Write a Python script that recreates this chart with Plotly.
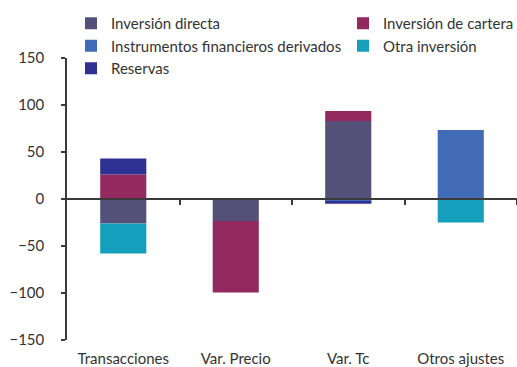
import plotly.graph_objects as go

# Contributions by component (stacked, relative mode)
categories = ["Transacciones", "Var. Precio", "Var. Tc", "Otros ajustes"]

inversion_directa = [-26, -23.5, 83, 0]
inversion_cartera = [26, -76, 10.5, 0]
otra_inversion = [-32, 0, -1.5, -25]
derivados = [0, 0, -1.5, 73.5]
reservas = [17, 0, -2, 0]

y_ticks = [-150, -100, -50, 0, 50, 100, 150]

FONT = "Lato"
TEXT = "#333333"
AXIS = "#3a3a3a"

series = [
    ("Inversión directa", inversion_directa, "#55507A", "legend"),
    ("Inversión de cartera", inversion_cartera, "#93295F", "legend2"),
    ("Otra inversión", otra_inversion, "#14A0BC", "legend2"),
    ("Instrumentos financieros derivados", derivados, "#416BB5", "legend"),
    ("Reservas", reservas, "#2E3192", "legend"),
]

fig = go.Figure()
for i, (name, vals, color, leg) in enumerate(series):
    fig.add_trace(go.Bar(
        x=categories, y=vals, name=name,
        marker=dict(color=color, line=dict(width=0)),
        legend=leg, legendgroup=f"g{i}",
    ))

# Invisible trace to carry the zero-level category axis
fig.add_trace(go.Scatter(x=[0, 3], y=[0, 0], xaxis="x2", mode="markers",
                         marker=dict(opacity=0), showlegend=False,
                         hoverinfo="skip"))

PLOT_W, PLOT_H, L, T = 450, 282, 67, 58

legend_style = dict(
    orientation="v", bgcolor="rgba(0,0,0,0)",
    font=dict(family=FONT, size=15, color=TEXT),
    xanchor="left", yanchor="top", tracegroupgap=0,
    itemsizing="constant",
)

fig.update_layout(
    width=517, height=367,
    margin=dict(l=L, r=0, t=T, b=27, autoexpand=False),
    paper_bgcolor="white", plot_bgcolor="white",
    barmode="relative", bargap=0.59,
    font=dict(family=FONT, size=15, color=TEXT),
    legend=dict(**legend_style, x=(71 - L) / PLOT_W, y=1 + (T - 7) / PLOT_H),
    legend2=dict(**legend_style, x=(343 - L) / PLOT_W, y=1 + (T - 7) / PLOT_H),
    xaxis=dict(
        showline=False, ticks="", showgrid=False, zeroline=False,
        ticklabelstandoff=8,
        tickfont=dict(family=FONT, size=15, color=TEXT),
    ),
    xaxis2=dict(
        overlaying="x", anchor="free", position=0.5, side="bottom",
        range=[-0.5, 3.5], showline=True, linecolor=AXIS, linewidth=1.5,
        ticks="outside", ticklen=5, tickcolor=AXIS, tickwidth=1.5,
        tickvals=[0.5, 1.5, 2.5, 3.5], showticklabels=False,
        showgrid=False, zeroline=False,
    ),
    yaxis=dict(
        range=[-150, 150], tickvals=y_ticks,
        showline=True, linecolor=AXIS, linewidth=1.5,
        ticks="outside", ticklen=4, tickcolor=AXIS, tickwidth=1.5,
        showgrid=False, zeroline=False, ticklabelstandoff=14,
        tickfont=dict(family=FONT, size=15, color=TEXT),
    ),
)

fig.write_html("out.html")
